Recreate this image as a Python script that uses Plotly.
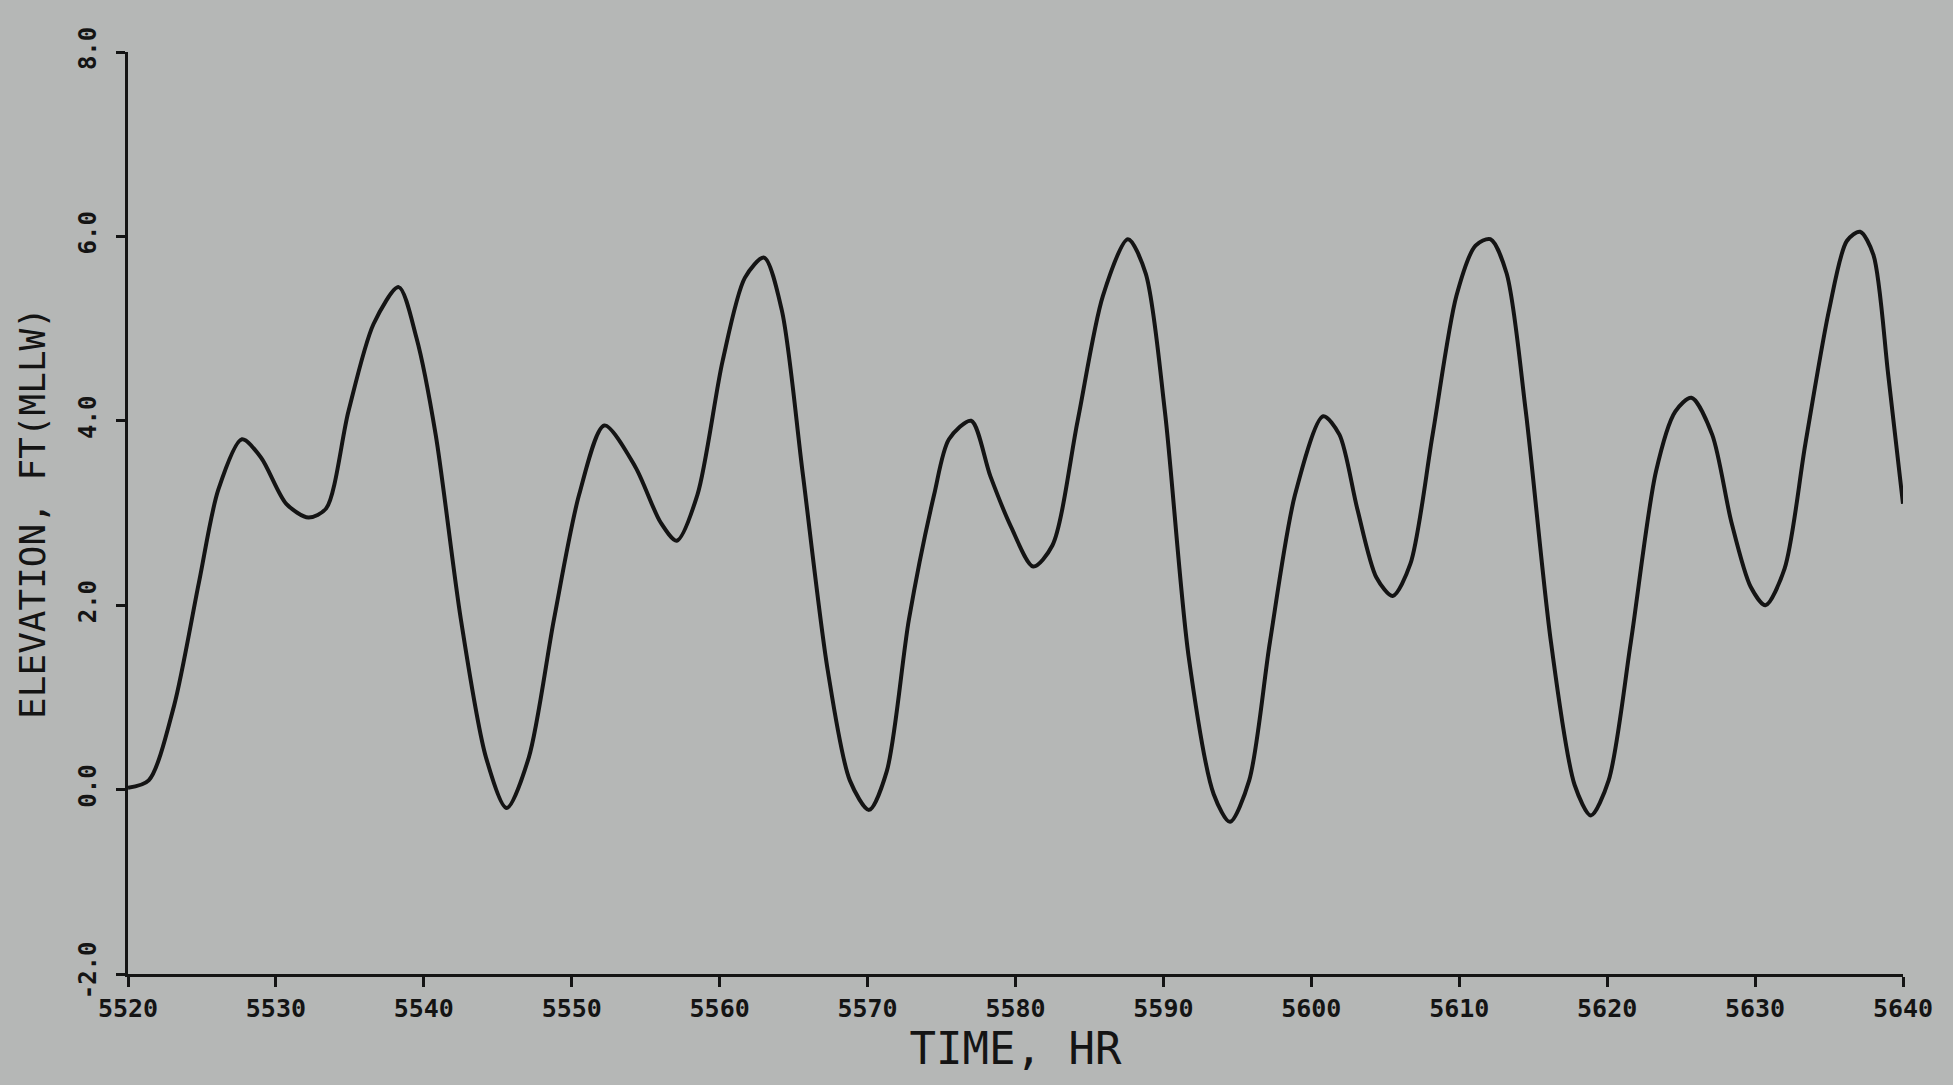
import plotly.graph_objects as go

# Data (time in hours, elevation in ft MLLW)
time_hr = [5520.0, 5521.4, 5523.1, 5524.8, 5526.1, 5527.7, 5529.0, 5530.7, 5532.2, 5533.4,
           5534.9, 5536.6, 5538.3, 5539.5, 5540.8, 5542.5, 5544.2, 5545.6, 5547.1, 5548.8,
           5550.5, 5552.2, 5554.3, 5556.0, 5557.1, 5558.5, 5560.2, 5561.7, 5563.0, 5564.2,
           5565.6, 5567.3, 5568.8, 5570.1, 5571.3, 5572.8, 5574.5, 5575.5, 5577.0, 5578.3,
           5579.7, 5581.2, 5582.5, 5584.2, 5585.9, 5587.6, 5588.8, 5590.1, 5591.7, 5593.4,
           5594.5, 5595.8, 5597.2, 5598.9, 5600.8, 5601.9, 5603.1, 5604.4, 5605.5, 5606.7,
           5608.2, 5609.8, 5611.1, 5612.1, 5613.2, 5614.5, 5616.2, 5617.8, 5618.9, 5620.1,
           5621.6, 5623.3, 5624.6, 5625.7, 5627.1, 5628.4, 5629.7, 5630.7, 5632.0, 5633.4,
           5635.0, 5636.2, 5637.1, 5638.0, 5639.0, 5640.0]
elevation_ft = [0.02, 0.10, 0.90, 2.25, 3.25, 3.80, 3.60, 3.10, 2.95, 3.05,
                4.10, 5.05, 5.45, 4.90, 3.85, 1.85, 0.35, -0.20, 0.35, 1.85,
                3.20, 3.95, 3.50, 2.90, 2.70, 3.20, 4.65, 5.55, 5.77, 5.20,
                3.45, 1.30, 0.10, -0.22, 0.20, 1.85, 3.20, 3.80, 4.00, 3.40,
                2.85, 2.42, 2.65, 4.00, 5.35, 5.97, 5.60, 4.10, 1.45, -0.05,
                -0.35, 0.10, 1.60, 3.20, 4.05, 3.85, 3.05, 2.30, 2.10, 2.45,
                3.85, 5.35, 5.90, 5.97, 5.60, 4.10, 1.60, 0.05, -0.28, 0.10,
                1.60, 3.45, 4.10, 4.25, 3.85, 2.90, 2.20, 2.00, 2.40, 3.75,
                5.20, 5.95, 6.05, 5.80, 4.50, 3.10]

x_ticks = [5520, 5530, 5540, 5550, 5560, 5570, 5580, 5590, 5600, 5610, 5620, 5630, 5640]
y_ticks = [-2.0, 0.0, 2.0, 4.0, 6.0, 8.0]
y_tick_text = ["-2.0", "0.0", "2.0", "4.0", "6.0", "8.0"]

BG = "#b5b7b6"
INK = "#141414"

fig = go.Figure()
fig.add_trace(go.Scatter(
    x=time_hr, y=elevation_ft, mode="lines",
    line=dict(color=INK, width=4, shape="spline", smoothing=0.8),
    showlegend=False, hoverinfo="skip"))

fig.update_layout(
    width=1953, height=1085,
    paper_bgcolor=BG, plot_bgcolor=BG,
    margin=dict(l=128, r=50, t=52, b=111),
    font=dict(family="DejaVu Sans Mono", color=INK),
    xaxis=dict(
        range=[5520, 5640], tickvals=x_ticks, ticktext=[str(v) for v in x_ticks],
        showgrid=False, zeroline=False, showline=True, linecolor=INK, linewidth=3,
        ticks="outside", ticklen=10, tickwidth=2.5, tickcolor=INK,
        tickfont=dict(family="DejaVu Sans Mono", size=25, color=INK, weight="bold"),
        ticklabelstandoff=0,
        title=dict(text="TIME, HR", font=dict(family="DejaVu Sans Mono", size=44, color=INK),
                   standoff=4),
    ),
    yaxis=dict(
        range=[-2, 8], tickvals=y_ticks, ticktext=y_tick_text, tickangle=-90,
        showgrid=False, zeroline=False, showline=True, linecolor=INK, linewidth=3,
        ticks="outside", ticklen=9, tickwidth=2.5, tickcolor=INK,
        tickfont=dict(family="DejaVu Sans Mono", size=24, color=INK, weight="bold"),
        ticklabelstandoff=10,
        title=dict(text="ELEVATION, FT(MLLW)",
                   font=dict(family="DejaVu Sans Mono", size=36, color=INK),
                   standoff=18),
    ),
)

fig.write_html(
    "out.html",
    config={"displayModeBar": False},
    post_script="document.body.style.margin='0';document.body.style.padding='0';"
                "document.body.style.background='" + BG + "';",
)
